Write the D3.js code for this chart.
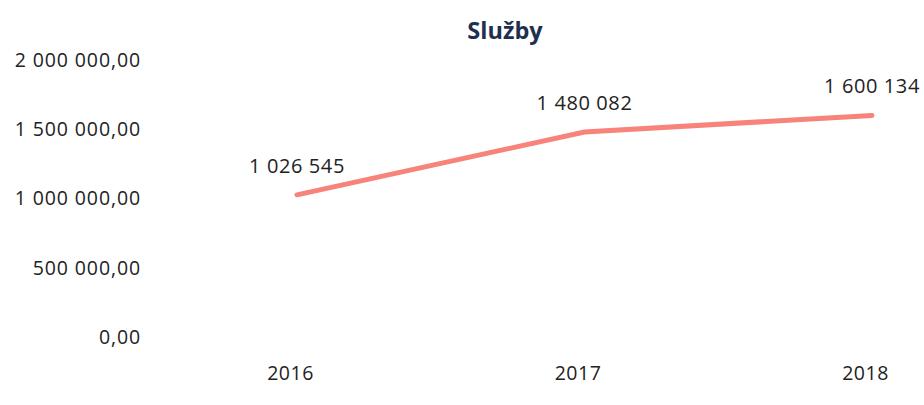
<!DOCTYPE html>
<html><head><meta charset="utf-8">
<script src="https://cdn.jsdelivr.net/npm/d3@7"></script>
<style>
html,body{margin:0;padding:0;background:#fff;}
text{font-family:"Open Sans","Noto Sans",sans-serif;}
</style></head>
<body><svg id="c" width="924" height="405"></svg>
<script>
const title = "Služby";
const years = ["2016", "2017", "2018"];
const values = [1026545, 1480082, 1600134];
const yTicks = [0, 500000, 1000000, 1500000, 2000000];

const svg = d3.select("#c");
const x = d3.scalePoint().domain(years).range([297, 872]);
const y = d3.scaleLinear().domain([0, 2000000]).range([337, 60]);

const fmtNum = v => d3.format(",.0f")(v).replace(/,/g, " ");
const fmtTick = v => d3.format(",.2f")(v).replace(/,/g, " ").replace(".", ",");

svg.append("text").attr("x", 505).attr("y", 39).attr("text-anchor", "middle")
  .attr("font-size", 23.5).attr("font-weight", 700).attr("fill", "#1f2f4f").text(title);

const yAxis = d3.axisLeft(y).tickValues(yTicks).tickFormat(fmtTick).tickSize(0).tickPadding(0);
const gy = svg.append("g").attr("transform", "translate(141,0)").call(yAxis);
gy.select(".domain").remove();
gy.selectAll("text").attr("font-size", 19.5).attr("letter-spacing", 0.9).attr("fill", "#222")
  .attr("font-family", "'Open Sans',sans-serif");

const xAxis = d3.axisBottom(x).tickSize(0).tickPadding(0);
const gx = svg.append("g").attr("transform", "translate(-7,366)").call(xAxis);
gx.select(".domain").remove();
gx.selectAll("text").attr("font-size", 19.5).attr("letter-spacing", 0.5).attr("fill", "#222")
  .attr("font-family", "'Open Sans',sans-serif");

const data = years.map((yr, i) => ({yr, v: values[i]}));
svg.append("path").datum(data)
  .attr("fill", "none").attr("stroke", "#f7837b").attr("stroke-width", 5).attr("stroke-linecap", "round")
  .attr("d", d3.line().x(d => x(d.yr)).y(d => y(d.v)));

svg.selectAll(".lbl").data(data).enter().append("text")
  .attr("x", d => x(d.yr)).attr("y", d => y(d.v) - 22)
  .attr("text-anchor", "middle").attr("font-size", 20).attr("letter-spacing", 0.6).attr("fill", "#222")
  .text(d => fmtNum(d.v));
</script></body></html>
